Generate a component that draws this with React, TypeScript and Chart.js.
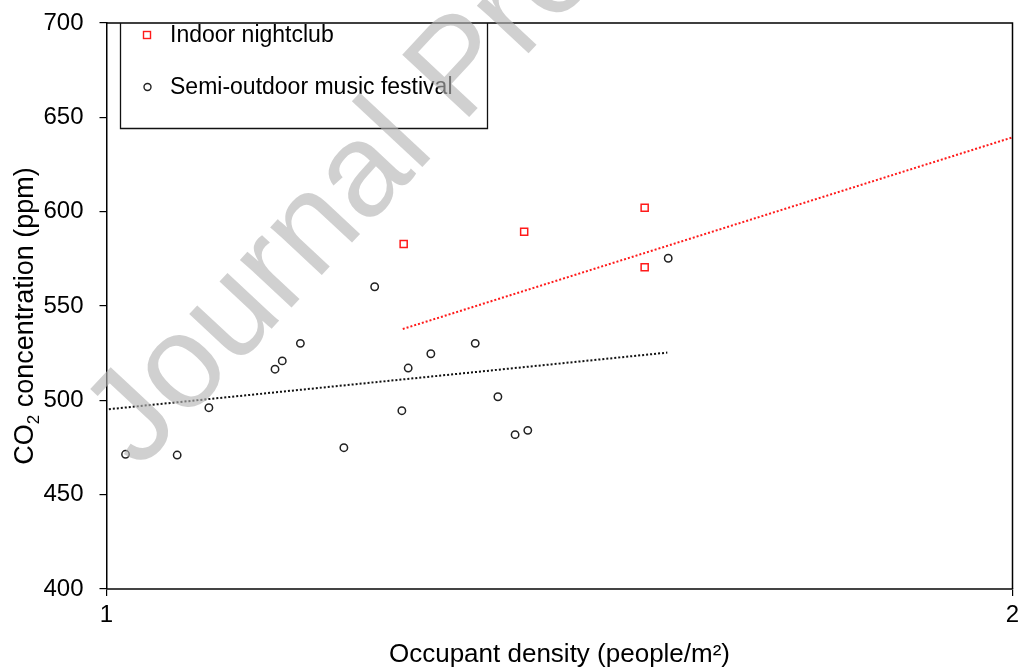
import React, { useEffect, useRef } from "react";
import { Chart, registerables } from "chart.js";

Chart.register(...registerables);

// ---- data ----
const nightclubDensity = [1.328, 1.461, 1.594, 1.594];
const nightclubCO2 = [582.9, 589.4, 602.1, 570.5];

const festivalDensity = [1.021, 1.078, 1.113, 1.186, 1.194, 1.214, 1.262, 1.296, 1.326, 1.333, 1.358, 1.407, 1.432, 1.451, 1.465, 1.62];
const festivalCO2 = [471.4, 471.0, 496.1, 516.5, 520.9, 530.2, 474.9, 560.2, 494.5, 517.1, 524.7, 530.2, 501.9, 481.8, 484.1, 575.3];

const nightclubTrendX = [1.327, 2.0];
const nightclubTrendY = [537.8, 639.4];
const festivalTrendX = [1.0026, 1.619];
const festivalTrendY = [495.3, 525.3];

const xRange = [1, 2];
const yRange = [400, 700];
const yStep = 50;

const legendLabels = ["Indoor nightclub", "Semi-outdoor music festival"];
const xTitle = "Occupant density (people/m\u00B2)";
const yTitleParts = ["CO", "2", " concentration (ppm)"];
const watermark = "Journal Pre-proof";

const FONT = "'Liberation Sans', Arial, Helvetica, sans-serif";
const RED = "#ff1a1a";
const DARK = "#222222";

const toPts = (xs: number[], ys: number[]) => xs.map((x, i) => ({ x, y: ys[i] }));

const decorPlugin = {
  id: "decor",
  afterDraw(chart: any) {
    const { ctx, chartArea } = chart;
    const { left, right, top, bottom } = chartArea;
    ctx.save();
    // top and right frame
    ctx.strokeStyle = "#000";
    ctx.lineWidth = 1.5;
    ctx.beginPath();
    ctx.moveTo(left, top);
    ctx.lineTo(right, top);
    ctx.lineTo(right, bottom);
    ctx.stroke();

    // legend box
    const lx0 = 120.5, lx1 = 487.5, ly0 = top, ly1 = 128.5;
    ctx.lineWidth = 1.3;
    ctx.strokeStyle = "#111";
    ctx.beginPath();
    ctx.moveTo(lx0, ly0);
    ctx.lineTo(lx0, ly1);
    ctx.lineTo(lx1, ly1);
    ctx.lineTo(lx1, ly0);
    ctx.stroke();

    // legend markers
    ctx.strokeStyle = RED;
    ctx.lineWidth = 1.4;
    ctx.strokeRect(143.5, 31.5, 7, 7);
    ctx.strokeStyle = DARK;
    ctx.beginPath();
    ctx.arc(147.5, 87, 3.5, 0, Math.PI * 2);
    ctx.stroke();

    // legend text
    ctx.fillStyle = "#000";
    ctx.font = `23px ${FONT}`;
    ctx.textBaseline = "middle";
    ctx.textAlign = "left";
    ctx.fillText(legendLabels[0], 170, 36);
    ctx.fillText(legendLabels[1], 170, 88);

    // y axis title with subscript
    const mainFont = `27px ${FONT}`;
    const subFont = `17px ${FONT}`;
    ctx.font = mainFont;
    const w0 = ctx.measureText(yTitleParts[0]).width;
    const w2 = ctx.measureText(yTitleParts[2]).width;
    ctx.font = subFont;
    const w1 = ctx.measureText(yTitleParts[1]).width;
    const total = w0 + w1 + w2;
    ctx.translate(26, 316);
    ctx.rotate(-Math.PI / 2);
    let x = -total / 2;
    ctx.textBaseline = "middle";
    ctx.font = mainFont;
    ctx.fillText(yTitleParts[0], x, 0);
    x += w0;
    ctx.font = subFont;
    ctx.fillText(yTitleParts[1], x, 8);
    x += w1;
    ctx.font = mainFont;
    ctx.fillText(yTitleParts[2], x, 0);
    ctx.restore();

    // watermark
    ctx.save();
    ctx.translate(139, 471);
    ctx.rotate((-47 * Math.PI) / 180);
    ctx.font = `133px ${FONT}`;
    ctx.fillStyle = "rgba(180,180,180,0.63)";
    ctx.textBaseline = "alphabetic";
    ctx.textAlign = "left";
    ctx.fillText(watermark, 0, 0);
    ctx.restore();
  },
};

export default function App() {
  const ref = useRef<HTMLCanvasElement | null>(null);

  useEffect(() => {
    if (!ref.current) return;
    const chart = new Chart(ref.current, {
      type: "scatter",
      data: {
        datasets: [
          {
            label: legendLabels[0],
            data: toPts(nightclubDensity, nightclubCO2),
            pointStyle: "rect",
            pointRadius: 5,
            pointBorderWidth: 1.5,
            borderColor: RED,
            backgroundColor: "rgba(0,0,0,0)",
            pointBackgroundColor: "rgba(0,0,0,0)",
          },
          {
            label: legendLabels[1],
            data: toPts(festivalDensity, festivalCO2),
            pointStyle: "circle",
            pointRadius: 3.7,
            pointBorderWidth: 1.5,
            borderColor: DARK,
            backgroundColor: "rgba(0,0,0,0)",
            pointBackgroundColor: "rgba(0,0,0,0)",
          },
          {
            label: "nightclub trend",
            data: toPts(nightclubTrendX, nightclubTrendY),
            showLine: true,
            pointRadius: 0,
            borderColor: RED,
            borderWidth: 2,
            borderDash: [2, 2],
          },
          {
            label: "festival trend",
            data: toPts(festivalTrendX, festivalTrendY),
            showLine: true,
            pointRadius: 0,
            borderColor: "#111",
            borderWidth: 2,
            borderDash: [2, 2],
          },
        ],
      },
      options: {
        animation: false,
        responsive: false,
        devicePixelRatio: 1,
        layout: { padding: { left: 0, top: 23, right: 10.5, bottom: 0 } },
        plugins: {
          legend: { display: false },
          tooltip: { enabled: false },
        },
        scales: {
          x: {
            type: "linear",
            min: xRange[0],
            max: xRange[1],
            afterFit: (s: any) => {
              s.height = 81;
              s.paddingLeft = 0;
              s.paddingRight = 0;
            },
            ticks: {
              stepSize: 1,
              color: "#000",
              padding: 5,
              font: { size: 24, family: FONT },
            },
            grid: {
              display: true,
              drawOnChartArea: false,
              drawTicks: true,
              tickLength: 7,
              tickColor: "#000",
              lineWidth: 1.2,
            },
            border: { display: true, color: "#444", width: 2 },
            title: {
              display: true,
              text: xTitle,
              color: "#000",
              font: { size: 26, family: FONT },
              padding: { top: 0, bottom: 0 },
            },
          },
          y: {
            type: "linear",
            min: yRange[0],
            max: yRange[1],
            afterFit: (s: any) => {
              s.width = 106.5;
              s.paddingTop = 0;
              s.paddingBottom = 0;
            },
            ticks: {
              stepSize: yStep,
              color: "#000",
              padding: 16,
              font: { size: 24, family: FONT },
            },
            grid: {
              display: true,
              drawOnChartArea: false,
              drawTicks: true,
              tickLength: 7,
              tickColor: "#000",
              lineWidth: 1.2,
            },
            border: { display: true, color: "#000", width: 1.5 },
          },
        },
      },
      plugins: [decorPlugin],
    });
    return () => chart.destroy();
  }, []);

  return (
    <div style={{ position: "absolute", left: 0, top: 0, width: 1023, height: 670, background: "#fff" }}>
      <canvas ref={ref} width={1023} height={670} style={{ display: "block" }} />
    </div>
  );
}
